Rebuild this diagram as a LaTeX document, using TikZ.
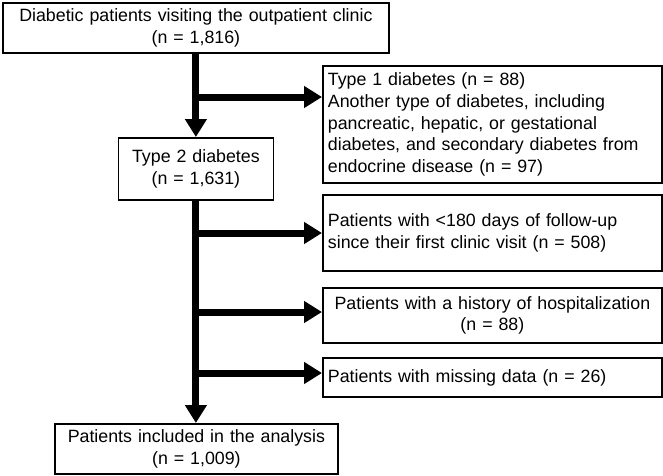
\documentclass[tikz,border=0pt]{standalone}
\usepackage{fontspec}
\setmainfont{Liberation Sans}
\usetikzlibrary{arrows.meta}
\begin{document}
\begin{tikzpicture}[x=1pt,y=-1pt,
  box/.style={draw, line width=1.8pt, inner xsep=5pt, inner ysep=2pt, anchor=north west,
    font=\fontsize{17.8pt}{21.7pt}\selectfont},
  arr/.style={line width=7pt, -{Triangle[length=18pt,width=21pt]}}]
\useasboundingbox (0,0) rectangle (663,475);
\node[box, minimum width=386pt, minimum height=50pt, text width=376pt, align=center] (b1) at (2,2)
  {Diabetic patients visiting the outpatient clinic\\(n = 1,816)};
\node[box, minimum width=339pt, minimum height=117pt, text width=329pt, align=left] (b2) at (322,65)
  {Type 1 diabetes (n = 88)\\Another type of diabetes, including\\pancreatic, hepatic, or gestational\\diabetes, and secondary diabetes from\\endocrine disease (n = 97)};
\node[box, minimum width=155pt, minimum height=62pt, text width=145pt, align=center] (t2) at (117.5,137)
  {Type 2 diabetes\\(n = 1,631)};
\node[box, minimum width=339pt, minimum height=76pt, text width=329pt, align=left] (b3) at (322,194)
  {Patients with <180 days of follow-up\\since their first clinic visit (n = 508)};
\node[box, minimum width=339pt, minimum height=55pt, text width=329pt, align=center] (b4) at (322,287)
  {Patients with a history of hospitalization\\(n = 88)};
\node[box, minimum width=339pt, minimum height=39pt, text width=329pt, align=left] (b5) at (322,357)
  {Patients with missing data (n = 26)};
\node[box, minimum width=283pt, minimum height=50pt, text width=273pt, align=center] (b6) at (54,423)
  {Patients included in the analysis\\(n = 1,009)};
\coordinate (j1) at (195,97);
\coordinate (j2) at (195,233);
\coordinate (j3) at (195,312);
\coordinate (j4) at (195,373);
\draw[arr] (b1.south) -- (t2.north);
\draw[arr] (t2.south) -- (t2.south |- b6.north);
\draw[arr] (j1) -- (b2.west |- j1);
\draw[arr] (j2) -- (b3.west |- j2);
\draw[arr] (j3) -- (b4.west |- j3);
\draw[arr] (j4) -- (b5.west |- j4);
\end{tikzpicture}
\end{document}
